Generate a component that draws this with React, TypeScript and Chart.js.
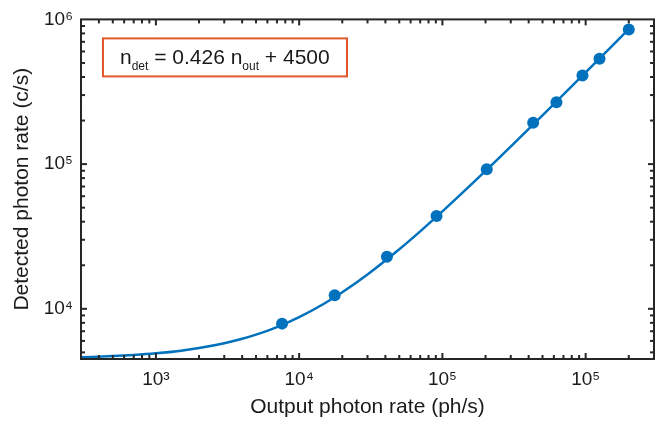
import React, { useEffect, useRef } from 'react';
import { Chart, registerables } from 'chart.js';

Chart.register(...registerables);

// Measured points (output photon rate vs detected photon rate)
const pointRate = [7600, 17700, 41000, 91000, 204000, 430000, 625000, 950000, 1250000, 2000000];
const pointDetected = [7900, 12400, 22900, 43800, 92000, 193000, 268000, 409000, 535000, 850000];

// Fitted line
const fitRate = [300, 500, 700, 1000, 1500, 2000, 3000, 4000, 5000, 7000, 10000, 15000, 20000, 30000, 50000, 70000, 100000, 200000, 500000, 1000000, 2000000];
const fitDetected = [4628, 4713, 4798, 4926, 5139, 5352, 5778, 6204, 6630, 7482, 8760, 10890, 13020, 17280, 25800, 34320, 47100, 89700, 217500, 430500, 856500];

const xTickValues = [1e3, 1e4, 1e5, 1e6];
const xTickLabels = ['10³', '10⁴', '10⁵', '10⁵'];
const yTickValues = [1e4, 1e5, 1e6];
const yTickLabels = ['10⁴', '10⁵', '10⁶'];

const xTitle = 'Output photon rate (ph/s)';
const yTitle = 'Detected photon rate (c/s)';

const equationParts: [string, boolean][] = [
  ['n', false],
  ['det', true],
  [' = 0.426 ', false],
  ['n', false],
  ['out', true],
  [' + 4500', false],
];

const FONT = "'Liberation Sans', Arial, Helvetica, sans-serif";
const BLUE = '#0072BD';
const AXIS = '#262626';

const framePlugin = {
  id: 'framePlugin',
  afterDraw(chart: any) {
    const { ctx, chartArea, scales } = chart;
    const { left, right, top, bottom } = chartArea;
    const x = scales.x;
    const y = scales.y;
    ctx.save();
    ctx.strokeStyle = AXIS;
    ctx.lineWidth = 2;
    const seg = (x1: number, y1: number, x2: number, y2: number) => {
      ctx.beginPath();
      ctx.moveTo(x1, y1);
      ctx.lineTo(x2, y2);
      ctx.stroke();
    };
    for (let e = 2; e <= 6; e++) {
      for (let m = 1; m <= 9; m++) {
        const v = m * Math.pow(10, e);
        if (v > x.min && v < x.max) {
          const px = x.getPixelForValue(v);
          const len = m === 1 ? 6 : 4;
          seg(px, bottom, px, bottom - len);
          seg(px, top, px, top + len);
        }
        if (v > y.min && v < y.max) {
          const py = y.getPixelForValue(v);
          const len = m === 1 ? 6 : 4;
          seg(left, py, left + len, py);
          seg(right, py, right - len, py);
        }
      }
    }
    ctx.strokeRect(left, top, right - left, bottom - top);

    // equation box
    const bx = left + 22;
    const by = top + 19;
    const bw = 244;
    const bh = 38;
    ctx.strokeStyle = '#E2582C';
    ctx.lineWidth = 2;
    ctx.strokeRect(bx, by, bw, bh);
    ctx.fillStyle = '#1a1a1a';
    ctx.textBaseline = 'alphabetic';
    let tx = bx + 17;
    const base = by + 26;
    for (const [txt, sub] of equationParts) {
      ctx.font = sub ? `12px ${FONT}` : `21px ${FONT}`;
      ctx.fillText(txt, tx, sub ? base + 6 : base);
      tx += ctx.measureText(txt).width;
    }
    ctx.restore();
  },
};

export default function App() {
  const ref = useRef<HTMLCanvasElement>(null);
  useEffect(() => {
    if (!ref.current) return;
    const chart = new Chart(ref.current, {
      type: 'scatter',
      data: {
        datasets: [
          {
            label: 'points',
            data: pointRate.map((v, i) => ({ x: v, y: pointDetected[i] })),
            backgroundColor: BLUE,
            borderColor: BLUE,
            pointRadius: 6,
            pointBorderWidth: 0,
            showLine: false,
            order: 0,
          },
          {
            label: 'fit',
            data: fitRate.map((v, i) => ({ x: v, y: fitDetected[i] })),
            borderColor: BLUE,
            backgroundColor: BLUE,
            borderWidth: 2.5,
            pointRadius: 0,
            showLine: true,
            cubicInterpolationMode: 'monotone',
            order: 1,
          },
        ],
      },
      options: {
        responsive: false,
        animation: false,
        devicePixelRatio: 1,
        layout: { padding: { top: 15, right: 11, left: 0, bottom: 0 } },
        plugins: { legend: { display: false }, tooltip: { enabled: false } },
        scales: {
          x: {
            type: 'logarithmic',
            min: 300,
            max: 3e6,
            grid: { display: false, drawTicks: false },
            border: { display: false },
            afterBuildTicks: (scale: any) => {
              scale.ticks = xTickValues.map((v) => ({ value: v }));
            },
            afterFit: (scale: any) => {
              scale.height = 66;
            },
            ticks: {
              autoSkip: false,
              maxRotation: 0,
              padding: 9,
              color: '#1a1a1a',
              font: { family: FONT, size: 19 },
              callback: (_v: any, i: number) => xTickLabels[i],
            },
            title: {
              display: true,
              text: xTitle,
              color: '#1a1a1a',
              font: { family: FONT, size: 21 },
              padding: { top: 0, bottom: 5 },
            },
          },
          y: {
            type: 'logarithmic',
            min: 4500,
            max: 1e6,
            grid: { display: false, drawTicks: false },
            border: { display: false },
            afterBuildTicks: (scale: any) => {
              scale.ticks = yTickValues.map((v) => ({ value: v }));
            },
            afterFit: (scale: any) => {
              scale.width = 81;
            },
            ticks: {
              autoSkip: false,
              padding: 8,
              color: '#1a1a1a',
              font: { family: FONT, size: 19 },
              callback: (_v: any, i: number) => yTickLabels[i],
            },
            title: {
              display: true,
              text: yTitle,
              color: '#1a1a1a',
              font: { family: FONT, size: 21 },
              padding: { top: 10, bottom: 0 },
            },
          },
        },
      },
      plugins: [framePlugin],
    } as any);
    return () => chart.destroy();
  }, []);
  return (
    <div style={{ position: 'absolute', left: 0, top: 0, width: 665, height: 425, background: '#fff' }}>
      <canvas ref={ref} width={665} height={425} style={{ display: 'block' }} />
    </div>
  );
}
